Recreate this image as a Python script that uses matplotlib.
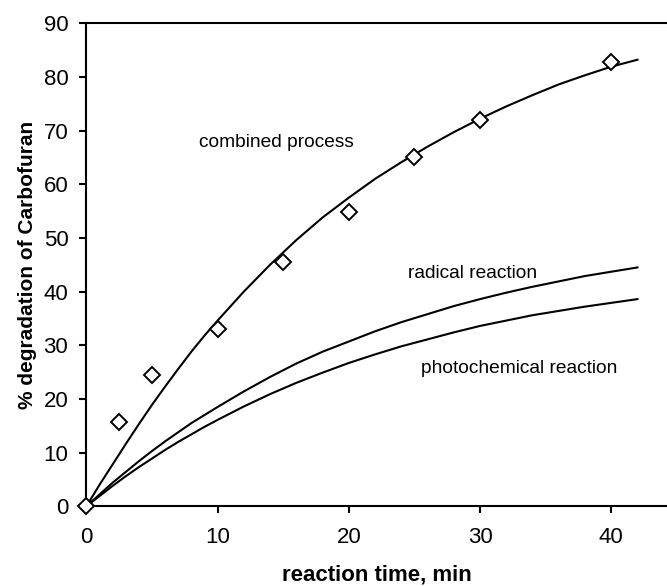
import matplotlib.pyplot as plt

plt.rcParams['font.family'] = ['Liberation Sans', 'DejaVu Sans']

# measured degradation, combined process
t_meas = [0, 2.5, 5, 10, 15, 20, 25, 30, 40]
deg_meas = [0, 15.7, 24.4, 33.1, 45.6, 54.9, 65.0, 72.0, 82.7]

# model curves
t_fit = [0, 1, 2, 3, 4, 5, 6, 7, 8, 9, 10, 12, 14, 16, 18, 20, 22, 24, 26, 28,
         30, 32, 34, 36, 38, 40, 42]
combined = [0, 4.0, 7.8, 11.6, 15.3, 18.9, 22.3, 25.6, 28.8, 31.8, 34.6,
            40.0, 45.0, 49.6, 53.8, 57.5, 61.0, 64.1, 67.0, 69.7,
            72.2, 74.5, 76.6, 78.6, 80.3, 81.9, 83.2]
radical = [0, 2.2, 4.4, 6.4, 8.4, 10.3, 12.1, 13.8, 15.5, 17.0, 18.5,
           21.4, 24.1, 26.6, 28.8, 30.7, 32.6, 34.3, 35.8, 37.3,
           38.6, 39.8, 40.9, 41.9, 42.9, 43.7, 44.5]
photo = [0, 1.9, 3.8, 5.6, 7.3, 8.9, 10.5, 12.0, 13.4, 14.8, 16.1,
         18.6, 20.9, 23.0, 24.9, 26.7, 28.3, 29.8, 31.1, 32.4,
         33.6, 34.6, 35.6, 36.4, 37.2, 37.9, 38.6]

fig = plt.figure(figsize=(6.67, 5.86), dpi=100)
ax = fig.add_axes([0.1295, 0.136, 0.8705, 0.8244])

ax.plot(t_fit, combined, color='black', lw=1.5)
ax.plot(t_fit, radical, color='black', lw=1.5)
ax.plot(t_fit, photo, color='black', lw=1.5)
ax.plot(t_meas, deg_meas, linestyle='none', marker='D', ms=8.5,
        mfc='white', mec='black', mew=1.4, clip_on=False, zorder=5)

ax.text(14.5, 67.8, 'combined process', fontsize=13.8, ha='center', va='center')
ax.text(29.4, 43.3, 'radical reaction', fontsize=13.8, ha='center', va='center')
ax.text(33.0, 25.6, 'photochemical reaction', fontsize=13.8, ha='center', va='center')

ax.set_xlim(0, 44.25)
ax.set_ylim(0, 90)
ax.set_xticks([0, 10, 20, 30, 40])
ax.set_yticks(range(0, 91, 10))
ax.tick_params(direction='out', length=5, width=1.5, labelsize=16)
ax.tick_params(axis='x', pad=10)
ax.tick_params(axis='y', pad=8)
for s in ['left', 'bottom', 'top']:
    ax.spines[s].set_linewidth(1.5)
ax.spines['right'].set_visible(False)

ax.set_xlabel('reaction time, min', fontsize=16, fontweight='bold', labelpad=12)
ax.set_ylabel('% degradation of Carbofuran', fontsize=15, fontweight='bold', labelpad=5)

fig.savefig('out.png', dpi=100)
